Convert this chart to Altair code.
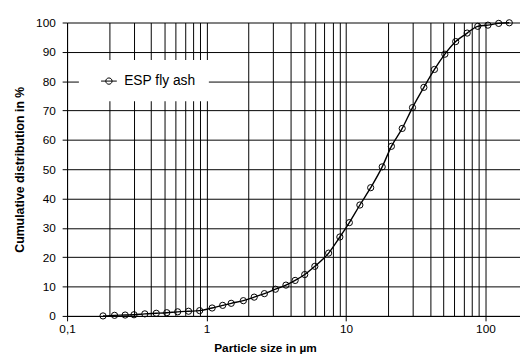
import altair as alt
import pandas as pd

# Particle size classes (µm) and cumulative distribution (%)
size_um = [0.181, 0.219, 0.261, 0.302, 0.361, 0.436, 0.519, 0.621, 0.743, 0.893,
           1.097, 1.306, 1.503, 1.837, 2.197, 2.60, 3.12, 3.71, 4.32, 5.06,
           5.98, 7.51, 9.04, 10.57, 12.58, 15.04, 18.19, 21.17, 25.31, 30.0,
           36.2, 43.1, 51.2, 61.2, 74.0, 88.1, 104.2, 124.5, 148.3]
cum_pct = [0.0, 0.2, 0.3, 0.4, 0.7, 0.9, 1.1, 1.4, 1.6, 1.8,
           2.7, 3.6, 4.3, 5.2, 6.4, 7.6, 9.1, 10.5, 12.1, 14.1,
           16.9, 21.4, 26.9, 31.8, 37.8, 43.7, 50.8, 57.8, 63.9, 71.0,
           77.9, 84.0, 89.2, 93.5, 96.4, 98.7, 99.1, 99.7, 99.9]
series_name = "ESP fly ash"

grid_x = [0.1, 0.2, 0.3, 0.4, 0.5, 0.6, 0.7, 0.8, 0.9,
          1, 2, 3, 4, 5, 6, 7, 8, 9,
          10, 20, 30, 40, 50, 60, 70, 80, 90, 100]
label_vals = [0.1, 1, 10, 100]
label_texts = ["0,1", "1", "10", "100"]
y_ticks = [0, 10, 20, 30, 40, 50, 60, 70, 80, 90, 100]

df = pd.DataFrame({"size": size_um, "cum": cum_pct, "series": series_name})

label_expr = ""
for v, t in zip(label_vals, label_texts):
    label_expr += f"datum.value == {v} ? '{t}' : "
label_expr += "''"
tick_test = " || ".join(f"datum.value == {v}" for v in label_vals)

FONT = "Liberation Sans"

x_enc = alt.X(
    "size:Q",
    scale=alt.Scale(type="log", domain=[0.1, 177], nice=False),
    axis=alt.Axis(
        values=grid_x, grid=True, gridColor="black", gridWidth=1, gridOpacity=1,
        labelExpr=label_expr, labelOverlap=False, labelFont=FONT, labelFontSize=12,
        labelColor="black", labelPadding=3, labelFlush=False,
        tickSize=5,
        tickColor={"condition": {"test": tick_test, "value": "black"}, "value": "rgba(0,0,0,0)"},
        domainColor="black",
        title="Particle size  in µm", titleFont=FONT, titleFontSize=12,
        titleFontWeight="bold", titleColor="black",
        titleX=201, titleY=36, titleAlign="center", titleBaseline="alphabetic",
    ),
)
y_enc = alt.Y(
    "cum:Q",
    scale=alt.Scale(domain=[0, 100], nice=False),
    axis=alt.Axis(
        values=y_ticks, grid=True, gridColor="black", gridWidth=1, gridOpacity=1,
        labelFont=FONT, labelFontSize=12, labelColor="black", labelPadding=7,
        labelOverlap=False,
        tickSize=5, tickColor="black", domainColor="black",
        title="Cumulative distribution  in %", titleFont=FONT, titleFontSize=12.5,
        titleFontWeight="bold", titleColor="black",
        titleX=-44, titleY=149, titleAlign="center", titleBaseline="alphabetic",
    ),
)

base = alt.Chart(df).encode(x=x_enc, y=y_enc)

line = base.mark_line(interpolate="monotone", strokeWidth=1.4).encode(
    color=alt.Color(
        "series:N",
        scale=alt.Scale(range=["black"]),
        legend=alt.Legend(
            title=None, orient="none", legendX=12, legendY=38,
            fillColor="white", padding=13,
            symbolType="M-1,0H1M-0.4,0A0.4,0.4,0,1,1,0.4,0A0.4,0.4,0,1,1,-0.4,0Z",
            symbolSize=256, symbolStrokeWidth=1, symbolStrokeColor="black",
            symbolFillColor="transparent", symbolOffset=9,
            labelFont=FONT, labelFontSize=14, labelColor="black", labelOffset=7,
            labelExpr="datum.label + '\u00a0\u00a0\u00a0\u00a0'",
        ),
    ),
)

points = base.mark_point(
    shape="circle", size=40, filled=False, color="black", strokeWidth=1, opacity=1
)

chart = alt.layer(line, points).properties(
    width=460, height=298,
    padding={"left": 60, "top": 12, "right": 0, "bottom": 40},
    autosize=alt.AutoSizeParams(type="none"),
    background="white",
).configure_view(stroke=None)

chart.save("out.html", embed_options={"renderer": "svg", "actions": False})
